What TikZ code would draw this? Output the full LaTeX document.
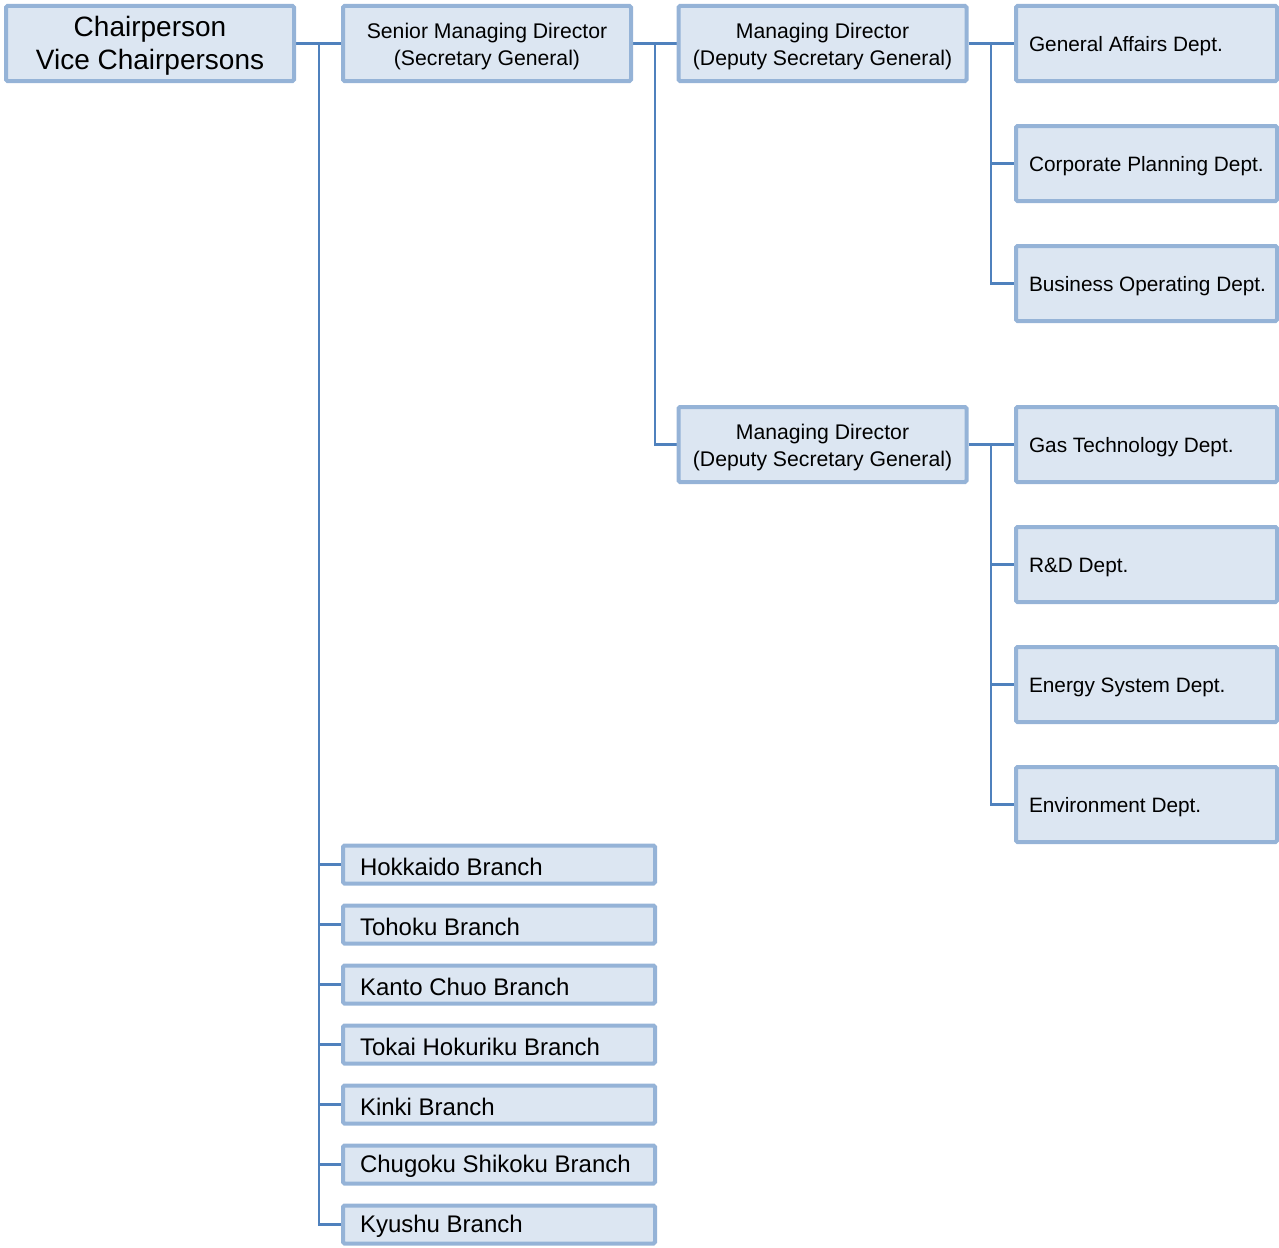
\documentclass[tikz,border=0pt]{standalone}
\usepackage{fontspec}
\setmainfont{Liberation Sans}
\usetikzlibrary{backgrounds}
\definecolor{boxfill}{HTML}{DCE6F2}
\definecolor{boxline}{HTML}{95B3D7}
\definecolor{conn}{HTML}{4F81BD}
\newcommand\droptext[1]{\raisebox{-3pt}[\height][\depth]{\begin{tabular}{@{}c@{}}#1\end{tabular}}}
\newcommand\deptlabel[1]{\raisebox{-3pt}[\height][\depth]{\makebox[235pt][l]{#1}}}
\newcommand\branchlabel[1]{\raisebox{-2pt}[\height][\depth]{\makebox[278pt][l]{#1}}}
\begin{document}
\begin{tikzpicture}[x=1pt,y=-1pt,
  box/.style={draw=boxline, fill=boxfill, line width=4pt, rounded corners=1.5pt, inner sep=0pt, text=black},
  bigbox/.style={box, minimum width=288pt, minimum height=75pt, font=\fontsize{28}{33}\selectfont},
  midbox/.style={box, minimum width=288pt, minimum height=75pt, font=\fontsize{21.2}{27}\selectfont},
  deptbox/.style={box, minimum height=75pt, inner xsep=13pt, font=\fontsize{20.8}{24}\selectfont},
  branchbox/.style={box, minimum height=38pt, inner xsep=17pt, font=\fontsize{24}{28}\selectfont},
  link/.style={draw=conn, line width=2.2pt}]
\useasboundingbox (0,0) rectangle (1279,1247);
\node[bigbox] (chair) at (150,43.5) {\droptext{Chairperson\\Vice Chairpersons}};
\node[midbox] (smd) at (487,43.5) {\droptext{Senior Managing Director\\(Secretary General)}};
\node[midbox] (md1) at (822.5,43.5) {\droptext{Managing Director\\(Deputy Secretary General)}};
\node[midbox] (md2) at (822.5,444.5) {\droptext{Managing Director\\(Deputy Secretary General)}};
\node[deptbox] (ga) at (1146.5,43.5) {\deptlabel{General Affairs Dept.}};
\node[deptbox] (cp) at (1146.5,163.5) {\deptlabel{Corporate Planning Dept.}};
\node[deptbox] (bo) at (1146.5,283.5) {\deptlabel{Business Operating Dept.}};
\node[deptbox] (gt) at (1146.5,444.5) {\deptlabel{Gas Technology Dept.}};
\node[deptbox] (rd) at (1146.5,564.5) {\deptlabel{R\&D Dept.}};
\node[deptbox] (es) at (1146.5,684.5) {\deptlabel{Energy System Dept.}};
\node[deptbox] (en) at (1146.5,804.5) {\deptlabel{Environment Dept.}};
\node[branchbox] (b1) at (499,864.5) {\branchlabel{Hokkaido Branch}};
\node[branchbox] (b2) at (499,924.5) {\branchlabel{Tohoku Branch}};
\node[branchbox] (b3) at (499,984.5) {\branchlabel{Kanto Chuo Branch}};
\node[branchbox] (b4) at (499,1044.5) {\branchlabel{Tokai Hokuriku Branch}};
\node[branchbox] (b5) at (499,1104.5) {\branchlabel{Kinki Branch}};
\node[branchbox] (b6) at (499,1164.5) {\branchlabel{Chugoku Shikoku Branch}};
\node[branchbox] (b7) at (499,1224.5) {\branchlabel{Kyushu Branch}};
\coordinate (t1) at (319,43.5);
\coordinate (t2) at (655,43.5);
\coordinate (t3) at (991,43.5);
\coordinate (t4) at (991,444.5);
\begin{scope}[on background layer]
\draw[link] (chair.east) -- (smd.west);
\draw[link] (t1) |- (b7.west);
\foreach \b in {b1,b2,b3,b4,b5,b6} \draw[link] (t1 |- \b.west) -- (\b.west);
\draw[link] (smd.east) -- (md1.west);
\draw[link] (t2) |- (md2.west);
\draw[link] (md1.east) -- (ga.west);
\draw[link] (t3) |- (bo.west);
\draw[link] (t3 |- cp.west) -- (cp.west);
\draw[link] (md2.east) -- (gt.west);
\draw[link] (t4) |- (en.west);
\foreach \b in {rd,es} \draw[link] (t4 |- \b.west) -- (\b.west);
\end{scope}
\end{tikzpicture}
\end{document}
